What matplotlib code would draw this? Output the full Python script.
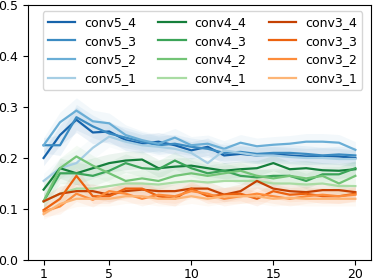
import numpy as np
import matplotlib
matplotlib.use('Agg')
import matplotlib.pyplot as plt

# epochs
x = np.arange(1, 21)

# valores
conv5_4 = [0.200, 0.245, 0.275, 0.250, 0.252, 0.235, 0.228, 0.232, 0.225, 0.215, 0.222, 0.205, 0.208, 0.205, 0.207, 0.205, 0.203, 0.204, 0.203, 0.200]
conv5_3 = [0.225, 0.225, 0.280, 0.262, 0.248, 0.240, 0.232, 0.225, 0.228, 0.222, 0.218, 0.210, 0.212, 0.208, 0.210, 0.210, 0.208, 0.205, 0.207, 0.205]
conv5_2 = [0.225, 0.270, 0.293, 0.272, 0.268, 0.245, 0.235, 0.228, 0.240, 0.225, 0.228, 0.218, 0.230, 0.223, 0.226, 0.228, 0.232, 0.232, 0.230, 0.216]
conv5_1 = [0.155, 0.180, 0.190, 0.220, 0.242, 0.232, 0.225, 0.222, 0.218, 0.210, 0.190, 0.215, 0.210, 0.205, 0.205, 0.202, 0.200, 0.200, 0.198, 0.198]

conv4_4 = [0.138, 0.180, 0.170, 0.180, 0.190, 0.195, 0.197, 0.180, 0.183, 0.185, 0.180, 0.175, 0.178, 0.180, 0.190, 0.178, 0.180, 0.176, 0.175, 0.178]
conv4_3 = [0.115, 0.170, 0.170, 0.165, 0.175, 0.190, 0.180, 0.178, 0.195, 0.180, 0.170, 0.175, 0.165, 0.162, 0.165, 0.165, 0.155, 0.168, 0.168, 0.180]
conv4_2 = [0.115, 0.180, 0.203, 0.185, 0.170, 0.155, 0.160, 0.155, 0.165, 0.170, 0.165, 0.170, 0.175, 0.165, 0.160, 0.165, 0.160, 0.165, 0.150, 0.165]
conv4_1 = [0.115, 0.130, 0.140, 0.140, 0.145, 0.150, 0.150, 0.148, 0.152, 0.155, 0.152, 0.155, 0.155, 0.155, 0.150, 0.150, 0.148, 0.150, 0.145, 0.145]

conv3_4 = [0.115, 0.130, 0.135, 0.135, 0.128, 0.135, 0.138, 0.135, 0.135, 0.140, 0.140, 0.128, 0.135, 0.155, 0.140, 0.135, 0.133, 0.137, 0.137, 0.133]
conv3_3 = [0.098, 0.120, 0.165, 0.125, 0.125, 0.140, 0.140, 0.125, 0.120, 0.140, 0.125, 0.128, 0.130, 0.120, 0.135, 0.128, 0.130, 0.125, 0.125, 0.130]
conv3_2 = [0.095, 0.105, 0.130, 0.118, 0.135, 0.130, 0.120, 0.128, 0.125, 0.135, 0.130, 0.120, 0.125, 0.130, 0.125, 0.120, 0.125, 0.128, 0.125, 0.128]
conv3_1 = [0.090, 0.110, 0.120, 0.120, 0.120, 0.125, 0.125, 0.120, 0.120, 0.125, 0.120, 0.125, 0.125, 0.125, 0.120, 0.122, 0.120, 0.120, 0.120, 0.120]

# desvio aproximado (faixa sombreada)
desvio_5 = [0.015, 0.020, 0.025, 0.022, 0.020, 0.020, 0.018, 0.018, 0.018, 0.017, 0.017, 0.016, 0.016, 0.016, 0.016, 0.016, 0.016, 0.016, 0.016, 0.016]
desvio_4 = [0.015, 0.020, 0.022, 0.020, 0.018, 0.018, 0.017, 0.017, 0.017, 0.016, 0.016, 0.016, 0.016, 0.015, 0.015, 0.015, 0.015, 0.015, 0.015, 0.015]
desvio_3 = [0.010, 0.015, 0.015, 0.014, 0.014, 0.014, 0.014, 0.014, 0.014, 0.014, 0.014, 0.014, 0.014, 0.014, 0.014, 0.014, 0.014, 0.014, 0.014, 0.014]

grupos = [
    (['conv5_4', 'conv5_3', 'conv5_2', 'conv5_1'], [conv5_4, conv5_3, conv5_2, conv5_1], desvio_5, plt.cm.Blues),
    (['conv4_4', 'conv4_3', 'conv4_2', 'conv4_1'], [conv4_4, conv4_3, conv4_2, conv4_1], desvio_4, plt.cm.Greens),
    (['conv3_4', 'conv3_3', 'conv3_2', 'conv3_1'], [conv3_4, conv3_3, conv3_2, conv3_1], desvio_3, plt.cm.Oranges),
]

fig = plt.figure(figsize=(3.74, 2.79), dpi=100)
ax = fig.add_axes([0.0749, 0.0681, 0.917, 0.914])

for nomes, series, desvio, cmap in grupos:
    cores = cmap(np.linspace(0.8, 0.35, 4))
    for nome, y, cor in zip(nomes, series, cores):
        y = np.array(y)
        d = np.array(desvio)
        ax.fill_between(x, y - d, y + d, color=cor, alpha=0.08, linewidth=0)
        ax.plot(x, y, color=cor, label=nome, linewidth=1.6)

ax.set_xlim(0.05, 20.95)
ax.set_ylim(0.0, 0.5)
ax.set_xticks([1, 5, 10, 15, 20])
ax.set_yticks([0.0, 0.1, 0.2, 0.3, 0.4, 0.5])
ax.tick_params(labelsize=9)
ax.tick_params(axis='x', pad=2.5)
ax.legend(ncol=3, loc='upper right', bbox_to_anchor=(0.974, 0.976),
          borderaxespad=0, fontsize=9, handlelength=2.2,
          columnspacing=1.8, labelspacing=0.45, handletextpad=0.7)

fig.savefig('out.png', dpi=100)
